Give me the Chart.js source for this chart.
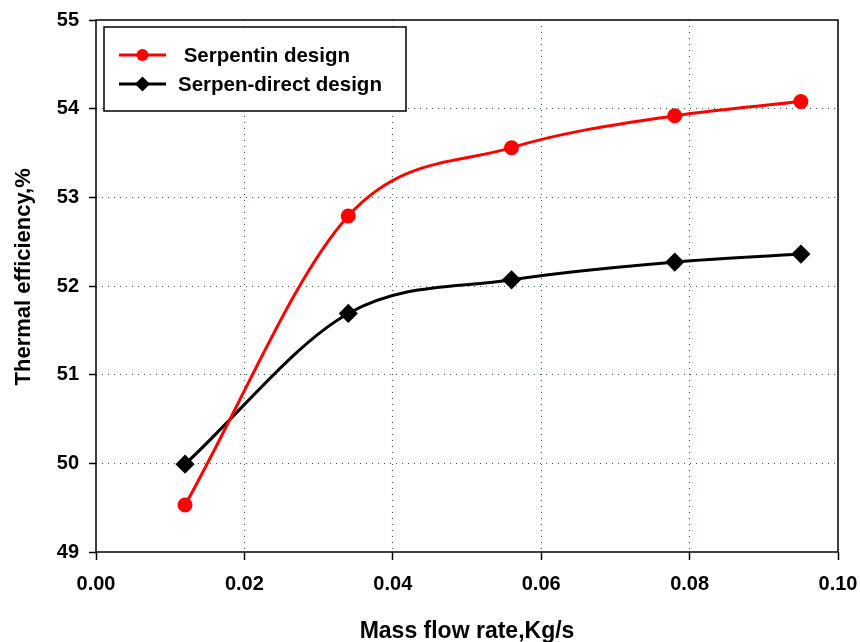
<!DOCTYPE html>
<html>
<head>
<meta charset="utf-8">
<script src="https://cdn.jsdelivr.net/npm/chart.js@4/dist/chart.umd.min.js"></script>
<style>
  html, body { margin: 0; padding: 0; background: #fff; }
  #wrap { width: 860px; height: 642px; position: relative; }
</style>
</head>
<body>
<div id="wrap"><canvas id="c" width="860" height="642"></canvas></div>
<script>
const massFlow = [0.012, 0.034, 0.056, 0.078, 0.095];
const serpentin = [49.53, 52.79, 53.56, 53.92, 54.08];
const serpenDirect = [49.99, 51.69, 52.07, 52.27, 52.36];
const xTicks = [0.00, 0.02, 0.04, 0.06, 0.08, 0.10];
const yTicks = [49, 50, 51, 52, 53, 54, 55];
const seriesNames = [' Serpentin design', 'Serpen-direct design'];
const xTitle = 'Mass flow rate,Kg/s';
const yTitle = '   Thermal efficiency,%';

const FONT = "'Liberation Sans', Arial, sans-serif";
const GRID = 'rgb(30,100,50)';

function pts(ys) { return massFlow.map((x, i) => ({ x: x, y: ys[i] })); }

const frameAndLegend = {
  id: 'frameAndLegend',
  beforeDatasetsDraw(chart) {
    const a = chart.chartArea, ctx = chart.ctx;
    ctx.save();
    ctx.strokeStyle = '#000';
    ctx.lineWidth = 1.5;
    ctx.strokeRect(a.left, a.top, a.right - a.left, a.bottom - a.top);
    ctx.restore();
  },
  afterDraw(chart) {
    const a = chart.chartArea, ctx = chart.ctx;
    const bx = a.left + 8, by = a.top + 7, bw = 302, bh = 84;
    ctx.save();
    ctx.fillStyle = '#fff';
    ctx.fillRect(bx, by, bw, bh);
    ctx.strokeStyle = '#000';
    ctx.lineWidth = 1.5;
    ctx.strokeRect(bx, by, bw, bh);
    const rows = [by + 28, by + 57];
    chart.data.datasets.forEach((ds, i) => {
      const y = rows[i];
      ctx.strokeStyle = ds.borderColor;
      ctx.lineWidth = 3;
      ctx.beginPath();
      ctx.moveTo(bx + 15, y);
      ctx.lineTo(bx + 62, y);
      ctx.stroke();
      ctx.fillStyle = ds.pointBackgroundColor;
      ctx.beginPath();
      if (ds.pointStyle === 'circle') {
        ctx.arc(bx + 38.5, y, 6, 0, Math.PI * 2);
      } else {
        const r = 7.5;
        ctx.moveTo(bx + 38.5, y - r);
        ctx.lineTo(bx + 38.5 + r, y);
        ctx.lineTo(bx + 38.5, y + r);
        ctx.lineTo(bx + 38.5 - r, y);
        ctx.closePath();
      }
      ctx.fill();
      ctx.fillStyle = '#000';
      ctx.font = 'bold 20.5px ' + FONT;
      ctx.textAlign = 'left';
      ctx.textBaseline = 'middle';
      ctx.fillText(ds.label, bx + 74, y + 1);
    });
    ctx.restore();
  }
};

function edgeTransparent(edges) {
  return (c) => (c.tick && edges.includes(Math.round(c.tick.value * 1000) / 1000)) ? 'rgba(0,0,0,0)' : GRID;
}

new Chart(document.getElementById('c'), {
  type: 'line',
  data: {
    datasets: [
      {
        label: seriesNames[0],
        data: pts(serpentin),
        borderColor: '#ff0000',
        backgroundColor: '#ff0000',
        pointBackgroundColor: '#ff0000',
        pointBorderColor: '#ff0000',
        pointStyle: 'circle',
        pointRadius: 6,
        borderWidth: 3,
        cubicInterpolationMode: 'monotone',
        fill: false
      },
      {
        label: seriesNames[1],
        data: pts(serpenDirect),
        borderColor: '#000000',
        backgroundColor: '#000000',
        pointBackgroundColor: '#000000',
        pointBorderColor: '#000000',
        pointStyle: 'rectRot',
        pointRadius: 7.5,
        borderWidth: 3,
        cubicInterpolationMode: 'monotone',
        fill: false
      }
    ]
  },
  options: {
    responsive: false,
    animation: false,
    devicePixelRatio: 1,
    layout: { autoPadding: false, padding: { top: 20, right: 22, left: 0, bottom: 0 } },
    plugins: { legend: { display: false }, tooltip: { enabled: false } },
    scales: {
      x: {
        type: 'linear',
        min: xTicks[0],
        max: xTicks[xTicks.length - 1],
        afterBuildTicks: (s) => { s.ticks = xTicks.map(v => ({ value: v })); },
        afterFit: (s) => { s.height = 90; s.paddingLeft = 0; s.paddingRight = 0; },
        ticks: {
          color: '#000',
          font: { family: FONT, size: 20, weight: 'bold' },
          padding: 12,
          maxRotation: 0,
          autoSkip: false,
          callback: (v) => Number(v).toFixed(2)
        },
        grid: {
          color: edgeTransparent([0, 0.1]),
          lineWidth: 1,
          tickColor: '#000',
          tickLength: 8,
          tickWidth: 1.5,
          tickBorderDash: []
        },
        border: { display: false, dash: [1, 5] },
        title: {
          display: true,
          text: xTitle,
          color: '#000',
          font: { family: FONT, size: 23, weight: 'bold', lineHeight: 0.9 },
          padding: { top: 0, bottom: 0 }
        }
      },
      y: {
        type: 'linear',
        min: yTicks[0],
        max: yTicks[yTicks.length - 1],
        afterBuildTicks: (s) => { s.ticks = yTicks.map(v => ({ value: v })); },
        afterFit: (s) => { s.width = 96; s.paddingTop = 0; s.paddingBottom = 0; },
        ticks: {
          color: '#000',
          font: { family: FONT, size: 20, weight: 'bold' },
          padding: 10,
          autoSkip: false,
          callback: (v) => String(v)
        },
        grid: {
          color: edgeTransparent([49, 55]),
          lineWidth: 1,
          tickColor: '#000',
          tickLength: 7,
          tickWidth: 1.5,
          tickBorderDash: []
        },
        border: { display: false, dash: [1, 5] },
        title: {
          display: true,
          text: yTitle,
          color: '#000',
          font: { family: FONT, size: 22, weight: 'bold' },
          padding: { top: 11, bottom: 11 }
        }
      }
    }
  },
  plugins: [frameAndLegend]
});
</script>
</body>
</html>
